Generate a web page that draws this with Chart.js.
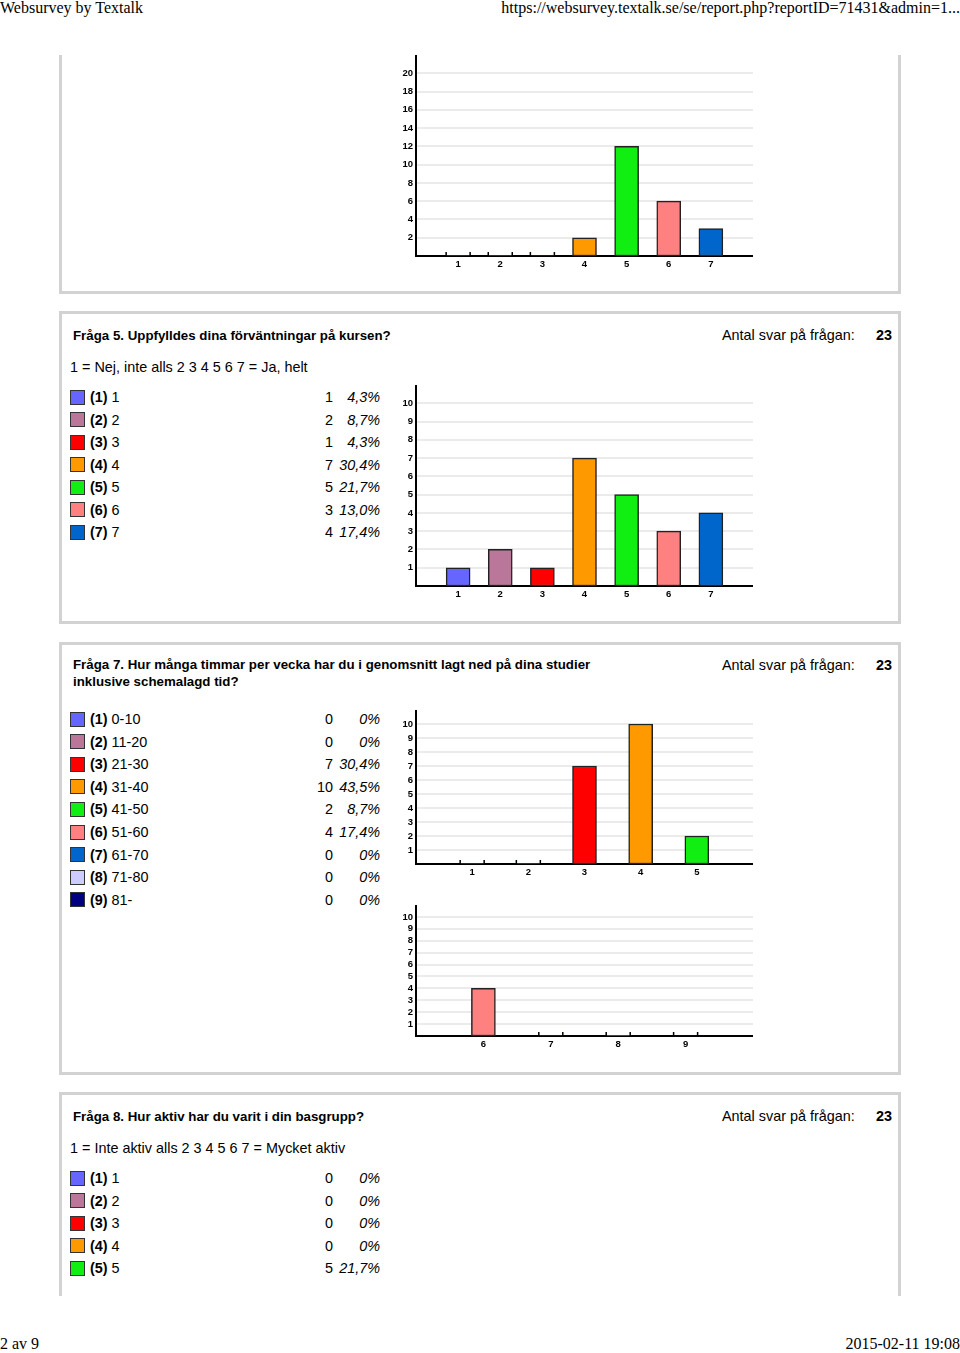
<!DOCTYPE html>
<html><head><meta charset="utf-8">
<script src="https://cdn.jsdelivr.net/npm/chart.js@4/dist/chart.umd.min.js"></script>
<style>
body{margin:0;width:960px;height:1353px;position:relative;background:#fff;font-family:"Liberation Sans",Arial,sans-serif;color:#000;overflow:hidden}
.abs{position:absolute;white-space:nowrap}
.serif{font-family:"Liberation Serif","Times New Roman",serif;font-size:16px;line-height:16px}
.panel{position:absolute;left:59px;width:836px;border:3px solid #d2d2d2}
.title{font-weight:bold;font-size:13.3px;line-height:17px}
.txt{font-size:14.4px;line-height:20px}
.sw{position:absolute;width:15px;height:15px;box-sizing:border-box;border:1px solid #333}
canvas{position:absolute;z-index:2}
</style></head><body>
<div class="abs serif" style="left:0;top:0">Websurvey by Textalk</div>
<div class="abs serif" style="right:0;top:0">https://websurvey.textalk.se/se/report.php?reportID=71431&amp;admin=1...</div>
<div class="abs serif" style="left:0;top:1336px">2 av 9</div>
<div class="abs serif" style="right:0;top:1336px">2015-02-11 19:08</div>

<div class="panel" style="top:55px;height:236px;border-top:none"></div>
<div class="panel" style="top:311px;height:307px"></div>
<div class="panel" style="top:642px;height:427px"></div>
<div class="panel" style="top:1092px;height:201px;border-bottom:none"></div>

<div class="abs title" style="left:73px;top:327px">Fråga 5. Uppfylldes dina förväntningar på kursen?</div>
<div class="abs txt" style="left:722px;top:325px">Antal svar på frågan:</div>
<div class="abs txt" style="left:876px;top:325px;font-weight:bold">23</div>
<div class="abs txt" style="left:70px;top:357px">1 = Nej, inte alls 2 3 4 5 6 7 = Ja, helt</div>

<div class="abs title" style="left:73px;top:656px">Fråga 7. Hur många timmar per vecka har du i genomsnitt lagt ned på dina studier<br>inklusive schemalagd tid?</div>
<div class="abs txt" style="left:722px;top:655px">Antal svar på frågan:</div>
<div class="abs txt" style="left:876px;top:655px;font-weight:bold">23</div>

<div class="abs title" style="left:73px;top:1108px">Fråga 8. Hur aktiv har du varit i din basgrupp?</div>
<div class="abs txt" style="left:722px;top:1106px">Antal svar på frågan:</div>
<div class="abs txt" style="left:876px;top:1106px;font-weight:bold">23</div>
<div class="abs txt" style="left:70px;top:1138px">1 = Inte aktiv alls 2 3 4 5 6 7 = Mycket aktiv</div>

<canvas id="c1" width="363" height="221" style="left:390px;top:55px"></canvas>
<canvas id="c2" width="363" height="221" style="left:390px;top:385px"></canvas>
<canvas id="c3" width="363" height="174" style="left:390px;top:710px"></canvas>
<canvas id="c4" width="363" height="151" style="left:390px;top:905px"></canvas>

<script>
// ---- data ----
const palette = ['#6666ff','#bb7799','#ff0000','#ff9900','#11ee11','#ff8080','#0066cc','#ccccff','#000080'];

// continued chart (previous question), scale 1–7
const q4Categories = ['1','2','3','4','5','6','7'];
const q4Values = [0,0,0,2,12,6,3];
const q4YTicks = [2,4,6,8,10,12,14,16,18,20];
const q4YMax = 22;

// Fråga 5
const q5Labels = ['1','2','3','4','5','6','7'];
const q5Values = [1,2,1,7,5,3,4];
const q5Percent = ['4,3%','8,7%','4,3%','30,4%','21,7%','13,0%','17,4%'];
const q5YTicks = [1,2,3,4,5,6,7,8,9,10];
const q5YMax = 11;

// Fråga 7
const q7Labels = ['0-10','11-20','21-30','31-40','41-50','51-60','61-70','71-80','81-'];
const q7Values = [0,0,7,10,2,4,0,0,0];
const q7Percent = ['0%','0%','30,4%','43,5%','8,7%','17,4%','0%','0%','0%'];
const q7YTicks = [1,2,3,4,5,6,7,8,9,10];
const q7YMax = 11;
const q7SplitAt = 5;

// Fråga 8
const q8Labels = ['1','2','3','4','5'];
const q8Values = [0,0,0,0,5];
const q8Percent = ['0%','0%','0%','0%','21,7%'];

// ---- legends (HTML text) ----
function legend(top, step, labels, counts, pcts) {
  labels.forEach((lab, i) => {
    const cy = top + step * i;
    const sw = document.createElement('div');
    sw.className = 'sw';
    sw.style.left = '70px'; sw.style.top = (cy - 7.5) + 'px';
    sw.style.background = palette[i];
    document.body.appendChild(sw);
    const t = document.createElement('div');
    t.className = 'abs txt';
    t.style.left = '90px'; t.style.top = (cy - 10) + 'px';
    t.innerHTML = '<b>(' + (i + 1) + ')</b> ' + lab;
    document.body.appendChild(t);
    const c = document.createElement('div');
    c.className = 'abs txt';
    c.style.left = '283px'; c.style.width = '50px'; c.style.textAlign = 'right';
    c.style.top = (cy - 10) + 'px';
    c.textContent = counts[i];
    document.body.appendChild(c);
    const p = document.createElement('div');
    p.className = 'abs txt';
    p.style.left = '330px'; p.style.width = '50px'; p.style.textAlign = 'right';
    p.style.fontStyle = 'italic';
    p.style.top = (cy - 10) + 'px';
    p.textContent = pcts[i];
    document.body.appendChild(p);
  });
}
legend(397, 22.5, q5Labels, q5Values, q5Percent);
legend(719, 22.6, q7Labels, q7Values, q7Percent);
legend(1178, 22.5, q8Labels, q8Values, q8Percent);

// ---- charts ----
const zeroTicks = {
  id: 'zeroTicks',
  afterDatasetsDraw(chart) {
    const xs = chart.scales.x, ys = chart.scales.y, ctx = chart.ctx;
    const y0 = ys.getPixelForValue(0);
    ctx.save();
    ctx.strokeStyle = '#000'; ctx.lineWidth = 1.5;
    chart.data.datasets[0].data.forEach((v, i) => {
      if (v === 0) {
        const cx = xs.getPixelForValue(i);
        [-12, 12].forEach(d => {
          ctx.beginPath(); ctx.moveTo(cx + d, y0 - 4); ctx.lineTo(cx + d, y0 + 1); ctx.stroke();
        });
      }
    });
    ctx.restore();
  }
};

const tickFont = { family: 'Liberation Sans', size: 9.5, weight: 'bold' };

function barChart(id, cats, values, colors, yMax, yTicks) {
  new Chart(document.getElementById(id), {
    type: 'bar',
    data: {
      labels: [''].concat(cats, ['']),
      datasets: [{
        data: [null].concat(values, [null]),
        backgroundColor: ['rgba(0,0,0,0)'].concat(colors, ['rgba(0,0,0,0)']),
        borderColor: '#222',
        borderWidth: c => (c.raw ? 1.5 : 0),
        borderSkipped: false,
        barThickness: 24
      }]
    },
    options: {
      responsive: false, animation: false, devicePixelRatio: 1,
      layout: { padding: 0 },
      plugins: { legend: { display: false }, tooltip: { enabled: false } },
      scales: {
        x: {
          type: 'category', offset: false,
          grid: { display: false, drawTicks: false },
          border: { color: '#000', width: 2 },
          ticks: { color: '#000', font: tickFont, padding: 3, maxRotation: 0, autoSkip: false },
          afterFit: s => { s.height = 20; s.paddingLeft = 0; s.paddingRight = 0; }
        },
        y: {
          min: 0, max: yMax,
          grid: { color: '#ebebeb', lineWidth: 2, drawTicks: false },
          border: { color: '#000', width: 2 },
          ticks: { color: '#000', font: tickFont, padding: 3 },
          afterBuildTicks: s => { s.ticks = yTicks.map(v => ({ value: v })); },
          afterFit: s => { s.width = 26; s.paddingTop = 0; s.paddingBottom = 0; }
        }
      }
    },
    plugins: [zeroTicks]
  });
}

barChart('c1', q4Categories, q4Values, palette.slice(0, 7), q4YMax, q4YTicks);
barChart('c2', q5Labels.map((l, i) => String(i + 1)), q5Values, palette.slice(0, 7), q5YMax, q5YTicks);
barChart('c3', q7Labels.slice(0, q7SplitAt).map((l, i) => String(i + 1)), q7Values.slice(0, q7SplitAt), palette.slice(0, q7SplitAt), q7YMax, q7YTicks);
barChart('c4', q7Labels.slice(q7SplitAt).map((l, i) => String(i + 1 + q7SplitAt)), q7Values.slice(q7SplitAt), palette.slice(q7SplitAt, 9), q7YMax, q7YTicks);
</script>
</body></html>
